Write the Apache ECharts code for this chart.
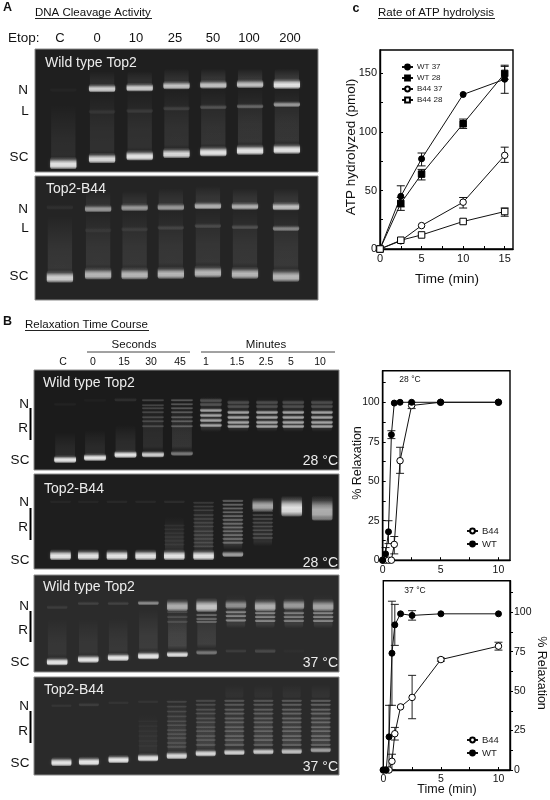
<!doctype html>
<html>
<head>
<meta charset="utf-8" />
<title></title>
<script src="https://cdn.jsdelivr.net/npm/echarts@6/dist/echarts.min.js"></script>
<style>
html,body{margin:0;padding:0;background:#fff}
#main{width:550px;height:800px;filter:blur(0.35px)}
</style>
</head>
<body>
<div id="main"></div>
<script>
// ---- line chart data ----
var atpTime = [0, 2.5, 5, 10, 15];
var atpWt37 = [0, 45, 77, 132, 145];
var atpWt28 = [0, 39, 64, 107, 150];
var atpB4437 = [0, 7, 20, 40, 80];
var atpB4428 = [0, 7.5, 12, 23.5, 32];
// [time, low, high]
var atpWt37Err = [[2.5, 36, 54], [5, 71, 82], [15, 133, 156]];
var atpWt28Err = [[2.5, 33, 44], [5, 59, 68], [10, 103, 111], [15, 145, 157]];
var atpB4437Err = [[10, 35, 44], [15, 74, 87]];
var atpB4428Err = [[15, 28, 35]];

var relaxTime = [0, 0.25, 0.5, 0.75, 1, 1.5, 2.5, 5, 10];
var relax28Wt = [0, 4, 18, 79.5, 99.5, 100, 100, 100, 100];
var relax28B44 = [0, 0, 0, 0, 10, 63, 98, 100, 100];
var relax28WtErr = [[0.25, 0, 8], [0.5, 10.5, 25], [0.75, 77, 82]];
var relax28B44Err = [[1, 4, 15], [1.5, 55, 71.5], [2.5, 96, 100]];
var relax37Wt = [0, 0, 21, 74, 92, 99, 98, 99, 99];
var relax37B44 = [0, 0, 0, 5.5, 23, 40, 46, 70, 78.5];
var relax37WtErr = [[0.5, 0, 41], [0.75, 41, 107], [1, 79, 105], [2.5, 95, 101]];
var relax37B44Err = [[0.75, 0, 10], [1, 19, 27], [2.5, 32.5, 60], [5, 69, 71], [10, 76, 81]];

var atpYLabels = [0, 50, 100, 150];
var atpYTicks = [0, 25, 50, 75, 100, 125, 150];
var atpXLabels = [0, 5, 10, 15];
var atpXTicks = [0, 2.5, 5, 7.5, 10, 12.5, 15];
var relaxYLabels = [0, 25, 50, 75, 100];
var relaxYTicks = [0, 12.5, 25, 37.5, 50, 62.5, 75, 87.5, 100, 112.5];
var relaxXLabels = [0, 5, 10];
var relaxXTicks = [0, 2.5, 5, 7.5, 10];

// ---- gel data: x = % of gel width, migration = % of gel height ----
// bands: [lane, [migrations], intensity, thickness]   smears: [lane, from, to, intensity]
var etopLabels = ['C', '0', '10', '25', '50', '100', '200'];
var secondLabels = ['C', '0', '15', '30', '45'];
var minuteLabels = ['1', '1.5', '2.5', '5', '10'];

var gelA1Lanes = [10, 23.7, 37, 50, 63, 76, 89];
var gelA1Bands = [
	[0, [33], .08, 2.5],
	[1, [31.7], .85, 5], [2, [31], .85, 5], [3, [29.3], .8, 5], [4, [28.7], .8, 5], [5, [28.2], .8, 5], [6, [28.2], .95, 6],
	[1, [50.7], .12, 3], [2, [50], .15, 3], [3, [48], .18, 3], [4, [47], .28, 3], [5, [46.3], .38, 3], [6, [44.7], .6, 3.5],
	[0, [92.7], .95, 7], [1, [88.6], .9, 6], [2, [86.4], .95, 6], [3, [84.5], .9, 6], [4, [83.2], .95, 6], [5, [81.8], .95, 6], [6, [81], .95, 6]
];
var gelA1Smears = [
	[0, 45, 92, .12], [1, 34, 88, .14], [2, 33, 86, .15], [3, 32, 84, .16], [4, 31, 83, .17], [5, 31, 81, .18], [6, 31, 80, .18],
	[1, 18, 31, .12], [2, 18, 30, .14], [3, 16, 29, .16], [4, 16, 28, .18], [5, 16, 28, .2], [6, 16, 28, .22]
];

var gelA2Lanes = [8.8, 22.3, 35.2, 48, 61.1, 74.2, 88.7];
var gelA2Bands = [
	[0, [25], .1, 3],
	[1, [26], .62, 4.5], [2, [25], .62, 4.5], [3, [24.7], .62, 4.5], [4, [23.7], .72, 4.5], [5, [24], .72, 4.5], [6, [24.2], .78, 5],
	[1, [43.5], .1, 3], [2, [42.7], .13, 3], [3, [41.4], .18, 3], [4, [40], .22, 3], [5, [40.9], .25, 3], [6, [42], .5, 3.5],
	[0, [81], .85, 7], [1, [78.5], .75, 7], [2, [78.5], .75, 7], [3, [78], .75, 7], [4, [77], .75, 7], [5, [78], .75, 7], [6, [80], .75, 7.5]
];
var gelA2Smears = [
	[0, 32, 80, .16], [1, 28, 77, .16], [2, 27, 77, .16], [3, 27, 76, .16], [4, 26, 75, .16], [5, 26, 76, .16], [6, 26, 78, .17],
	[1, 12, 25, .1], [2, 12, 24, .12], [3, 10, 24, .13], [4, 8, 23, .15], [5, 10, 23, .15], [6, 10, 23, .15]
];

var gelB1Lanes = [10.2, 20, 30, 39, 48.5, 58, 67, 76.4, 85, 94.4];
var gelB1Bands = [
	[0, [34], .1, 2.5], [1, [30], .08, 2.5], [2, [29.5], .15, 3],
	[0, [89], .95, 5.5], [1, [87], .95, 5.5], [2, [84], .95, 5.5], [3, [84], .85, 5], [4, [83], .5, 4],
	[3, [30, 35, 38, 42, 47, 51, 56], .38, 2.2],
	[4, [30, 34, 38, 42, 47, 51, 56], .5, 2.2],
	[5, [30, 34], .3, 3.5], [5, [40, 45, 50, 55], .65, 3],
	[6, [32, 36], .28, 3.5], [6, [42, 47, 52, 56], .65, 3],
	[7, [32, 36], .28, 3.5], [7, [42, 47, 52, 56], .65, 3],
	[8, [32, 36], .28, 3.5], [8, [42, 47, 52, 56], .65, 3],
	[9, [32, 36], .28, 3.5], [9, [42, 47, 52, 56], .65, 3]
];
var gelB1Smears = [
	[0, 62, 88, .12], [1, 60, 86, .13], [2, 55, 83, .14], [3, 34, 82, .15], [4, 34, 82, .2],
	[5, 26, 62, .18], [6, 26, 62, .17], [7, 26, 62, .17], [8, 26, 62, .17], [9, 26, 62, .17]
];

var gelB2Lanes = [8.7, 17.8, 27.2, 36.6, 46, 55.6, 65.2, 75, 84.5, 94.5];
var gelB2Bands = [
	[0, [29], .12, 2.5], [1, [29], .12, 2.5], [2, [29], .14, 2.5], [3, [29], .14, 2.5], [4, [29], .18, 2.5],
	[0, [85], .95, 8], [1, [85], .95, 8], [2, [85], .95, 8], [3, [85], .95, 8], [4, [85], .95, 8], [5, [85], .95, 8], [6, [84], .65, 5],
	[4, [54, 58, 62, 66, 70, 74], .14, 2],
	[5, [30, 34, 38, 43, 47, 51, 55, 60, 64, 68, 72, 76], .28, 2],
	[6, [28, 32, 36, 40, 44, 48, 52, 56, 60, 64, 68, 72], .55, 2.2],
	[7, [39, 43, 47, 51, 55, 59, 63, 67], .35, 2],
	[7, [32], .7, 10],
	[8, [34], .92, 15],
	[9, [36], .7, 18], [9, [47], .2, 3]
];
var gelB2Smears = [
	[4, 45, 82, .16], [5, 28, 82, .2], [6, 26, 80, .2], [7, 36, 76, .14], [8, 25, 38, .15], [9, 25, 50, .12]
];

var gelB3Lanes = [7.6, 17.8, 27.6, 37.5, 47, 56.6, 66.2, 75.8, 85.2, 94.8];
var gelB3Bands = [
	[0, [33], .15, 3], [1, [29], .18, 3], [2, [29], .18, 3], [3, [28.5], .55, 3.5], [4, [31], .7, 9], [5, [31], .8, 10],
	[6, [30], .55, 7], [7, [31], .7, 9], [8, [30], .6, 8], [9, [31], .65, 9],
	[4, [38, 43, 48], .3, 2.2], [5, [41, 45, 48], .55, 2.2], [6, [38, 42, 46.5], .7, 2.5],
	[7, [39, 43, 47], .7, 2.5], [8, [39, 43, 47], .65, 2.5], [9, [39, 43, 47], .7, 2.5],
	[0, [89], .95, 6], [1, [86.3], .95, 6], [2, [84.5], .95, 6], [3, [82.8], .95, 6], [4, [81.4], .9, 5], [5, [79.4], .45, 4],
	[6, [78], .15, 3], [7, [78], .22, 3.5], [8, [78], .05, 3]
];
var gelB3Smears = [
	[0, 45, 86, .1], [1, 45, 84, .1], [2, 45, 82, .11], [3, 35, 80, .15], [4, 35, 78, .22], [5, 35, 76, .17],
	[6, 20, 55, .14], [7, 20, 55, .15], [8, 20, 55, .15], [9, 20, 55, .15]
];

var gelB4Lanes = [9, 18, 27.7, 37.4, 46.8, 56.3, 65.7, 75.2, 84.5, 94];
var gelB4Bands = [
	[0, [29], .15, 2.5], [1, [28], .16, 3], [2, [26], .14, 2.5], [3, [25], .14, 2.5],
	[0, [86.4], .95, 6.5], [1, [85.8], .95, 6.5], [2, [83.7], .95, 6], [3, [82], .95, 6], [4, [79.7], .88, 6],
	[5, [77.3], .88, 5.5], [6, [76.3], .85, 5], [7, [75.6], .82, 5], [8, [75.3], .78, 5], [9, [74], .65, 4.5],
	[3, [45, 50, 55, 60, 65, 70], .08, 2],
	[4, [25, 30, 35, 40, 45, 49, 54, 58, 62, 67, 71], .28, 2],
	[5, [24, 28, 33, 37, 42, 46, 51, 55, 60, 64, 69], .33, 2.1],
	[6, [24, 28, 33, 37, 42, 46, 51, 55, 60, 64, 69], .42, 2.2],
	[7, [24, 28, 33, 37, 42, 46, 51, 55, 60, 64, 69], .42, 2.2],
	[8, [24, 28, 33, 37, 42, 46, 51, 55, 60, 64, 69], .45, 2.2],
	[9, [24, 28, 33, 37, 42, 46, 51, 55, 60, 64, 69], .48, 2.2]
];
var gelB4Smears = [
	[3, 38, 80, .08], [4, 22, 78, .18], [5, 22, 76, .2], [6, 20, 75, .2], [7, 20, 74, .2], [8, 20, 74, .2], [9, 20, 73, .2],
	[6, 8, 22, .06], [7, 8, 22, .06], [8, 8, 22, .07], [9, 8, 22, .08]
];

// gel panels, left/top in page pixels
var gels = [
	{left: 35, top: 49, width: 283, height: 123, bg: '#1f1f1f', laneW: 10, lanes: gelA1Lanes, bands: gelA1Bands, smears: gelA1Smears},
	{left: 35, top: 176, width: 283, height: 124, bg: '#242424', laneW: 10, lanes: gelA2Lanes, bands: gelA2Bands, smears: gelA2Smears},
	{left: 34, top: 370, width: 305, height: 100, bg: '#1b1b1b', laneW: 7.8, lanes: gelB1Lanes, bands: gelB1Bands, smears: gelB1Smears},
	{left: 34, top: 474, width: 305, height: 95, bg: '#1e1e1e', laneW: 7.4, lanes: gelB2Lanes, bands: gelB2Bands, smears: gelB2Smears},
	{left: 34, top: 575, width: 305, height: 97, bg: '#2b2b2b', laneW: 7.4, lanes: gelB3Lanes, bands: gelB3Bands, smears: gelB3Smears},
	{left: 34, top: 677, width: 305, height: 98, bg: '#2a2a2a', laneW: 7.2, lanes: gelB4Lanes, bands: gelB4Bands, smears: gelB4Smears}
];

var FONT = '"Liberation Sans", Arial, sans-serif';
var myChart = echarts.init(document.getElementById('main'), null, {renderer: 'canvas'});
var grid = [], xAxis = [], yAxis = [], series = [];

function pairs(x, y) {
	return x.map(function (t, i) { return [t, y[i]]; });
}

// gradient profiles across a band and along a smear
var bandProfile = [[0, 0], [.2, .2], [.4, .75], [.55, 1], [.75, .95], [.92, .45], [1, 0]];
var smearProfile = [[0, 0], [.3, .5], [.6, .9], [.88, 1], [1, 0]];

// soft-edged white rectangle for gel bands and smears
function gelRect(api, x, from, to, w, alpha, profile, blur, inset) {
	var a = api.coord([x - w / 2, from]);
	var b = api.coord([x + w / 2, to]);
	return {
		type: 'rect',
		shape: {x: a[0] + inset, y: a[1], width: b[0] - a[0] - inset * 2, height: b[1] - a[1], r: 3},
		style: {
			fill: new echarts.graphic.LinearGradient(0, 0, 0, 1, profile.map(function (s) {
				return {offset: s[0], color: 'rgba(255,255,255,' + (s[1] * alpha).toFixed(3) + ')'};
			})),
			shadowBlur: blur,
			shadowColor: 'rgba(255,255,255,' + (alpha * .3).toFixed(3) + ')'
		}
	};
}

gels.forEach(function (g) {
	var i = grid.length;
	grid.push({left: g.left, top: g.top, width: g.width, height: g.height, show: true, backgroundColor: g.bg, borderColor: '#8a8a8a', borderWidth: 1});
	xAxis.push({gridIndex: i, type: 'value', min: 0, max: 100, show: false});
	yAxis.push({gridIndex: i, type: 'value', min: 0, max: 100, inverse: true, show: false});
	var smearRows = g.smears.map(function (s) { return [g.lanes[s[0]], s[1], s[2], s[3]]; });
	var bandRows = [];
	g.bands.forEach(function (b) {
		b[1].forEach(function (m) { bandRows.push([g.lanes[b[0]], m, b[2], b[3]]); });
	});
	series.push({
		type: 'custom', xAxisIndex: i, yAxisIndex: i, clip: true, silent: true, z: 2,
		data: smearRows,
		renderItem: function (params, api) {
			return gelRect(api, api.value(0), api.value(1), api.value(2), g.laneW, api.value(3) * .55, smearProfile, 6, 2);
		}
	});
	series.push({
		type: 'custom', xAxisIndex: i, yAxisIndex: i, clip: true, silent: true, z: 3,
		data: bandRows,
		renderItem: function (params, api) {
			var m = api.value(1), t = api.value(3) * 1.5;
			var alpha = Math.pow(api.value(2), 1.25) * (t < 4 ? .58 : .9);
			return gelRect(api, api.value(0), m - t / 2, m + t / 2, g.laneW, alpha, bandProfile, 3, 1);
		}
	});
});

// error bars with caps, drawn through the axes of the given grid
function errorSeries(idx, rows, color) {
	return {
		type: 'custom', xAxisIndex: idx, yAxisIndex: idx, z: 3, silent: true, clip: false, data: rows,
		renderItem: function (params, api) {
			var lo = api.coord([api.value(0), api.value(1)]);
			var hi = api.coord([api.value(0), api.value(2)]);
			var st = {stroke: color, lineWidth: 1, fill: 'none'};
			return {type: 'group', children: [
				{type: 'line', shape: {x1: lo[0], y1: lo[1], x2: hi[0], y2: hi[1]}, style: st},
				{type: 'line', shape: {x1: lo[0] - 4, y1: lo[1], x2: lo[0] + 4, y2: lo[1]}, style: st},
				{type: 'line', shape: {x1: hi[0] - 4, y1: hi[1], x2: hi[0] + 4, y2: hi[1]}, style: st}
			]};
		}
	};
}

function lineSeries(idx, name, data, symbol, filled, size) {
	return {
		name: name, type: 'line', xAxisIndex: idx, yAxisIndex: idx, z: 5, data: data,
		symbol: symbol, symbolSize: size, showAllSymbol: true, clip: false, animation: false,
		lineStyle: {color: '#111', width: 1},
		itemStyle: {color: filled ? '#000' : '#fff', borderColor: '#000', borderWidth: 1, opacity: 1}
	};
}

function plotAxes(g, xMax, yMax, xLabels, xTicks, yLabels, yTicks, yRight, fontSize) {
	var i = grid.length;
	grid.push({left: g.left, top: g.top, width: g.width, height: g.height, show: true, backgroundColor: 'transparent', borderColor: '#000', borderWidth: 1.4, z: 4});
	xAxis.push({
		gridIndex: i, type: 'value', min: 0, max: xMax, splitLine: {show: false},
		axisLine: {show: true, onZero: false, lineStyle: {color: '#000', width: 1.4}},
		axisTick: {show: true, inside: true, length: 3, customValues: xTicks, lineStyle: {color: '#000'}},
		axisLabel: {customValues: xLabels, color: '#111', fontFamily: FONT, fontSize: fontSize, margin: 4, hideOverlap: false, showMinLabel: true, showMaxLabel: true}
	});
	yAxis.push({
		gridIndex: i, type: 'value', min: 0, max: yMax, position: yRight ? 'right' : 'left', splitLine: {show: false},
		axisLine: {show: true, onZero: false, lineStyle: {color: '#000', width: 1.4}},
		axisTick: {show: true, inside: !yRight, length: 3, customValues: yTicks, lineStyle: {color: '#000'}},
		axisLabel: {customValues: yLabels, color: '#111', fontFamily: FONT, fontSize: fontSize, margin: yRight ? 4 : 3, hideOverlap: false, showMinLabel: true, showMaxLabel: true}
	});
	return i;
}

// rate of ATP hydrolysis
var a = plotAxes({left: 380, top: 50, width: 133, height: 199}, 16, 170, atpXLabels, atpXTicks, atpYLabels, atpYTicks, false, 11);
[atpWt37Err, atpWt28Err, atpB4437Err, atpB4428Err].forEach(function (e) { series.push(errorSeries(a, e, '#111')); });
series.push(lineSeries(a, 'WT 37', pairs(atpTime, atpWt37), 'circle', true, 6));
series.push(lineSeries(a, 'WT 28', pairs(atpTime, atpWt28), 'rect', true, 6.5));
series.push(lineSeries(a, 'B44 37', pairs(atpTime, atpB4437), 'circle', false, 6.5));
series.push(lineSeries(a, 'B44 28', pairs(atpTime, atpB4428), 'rect', false, 6.5));

// relaxation 28 C
var b = plotAxes({left: 382.7, top: 370.7, width: 127.3, height: 189.5}, 11, 120, relaxXLabels, relaxXTicks, relaxYLabels, relaxYTicks, false, 10.5);
series.push(errorSeries(b, relax28WtErr, '#222'));
series.push(errorSeries(b, relax28B44Err, '#222'));
series.push(lineSeries(b, 'B44', pairs(relaxTime, relax28B44), 'circle', false, 6.5));
series.push(lineSeries(b, 'WT', pairs(relaxTime, relax28Wt), 'circle', true, 6));

// relaxation 37 C
var c = plotAxes({left: 383.3, top: 580.7, width: 126.7, height: 189.3}, 11, 120, relaxXLabels, relaxXTicks, relaxYLabels, relaxYTicks, true, 10.5);
series.push(errorSeries(c, relax37WtErr, '#222'));
series.push(errorSeries(c, relax37B44Err, '#222'));
series.push(lineSeries(c, 'B44', pairs(relaxTime, relax37B44), 'circle', false, 6.5));
series.push(lineSeries(c, 'WT', pairs(relaxTime, relax37Wt), 'circle', true, 6));

function legendAt(left, top, names, size, gap) {
	return {
		left: left, top: top, orient: 'vertical', data: names, itemWidth: 11, itemHeight: 6, itemGap: gap, selectedMode: false,
		textStyle: {fontFamily: FONT, fontSize: size, color: '#222', padding: [0, 0, 0, -1]}
	};
}

// text helpers
var texts = [];
function txt(x, y, s, size, opt) {
	opt = opt || {};
	texts.push({
		type: 'text', x: x, y: y, rotation: opt.rot || 0, z: 20, silent: true,
		style: {
			text: s, fill: opt.fill || '#111', textAlign: opt.align || 'center', textVerticalAlign: 'middle',
			font: (opt.bold ? 'bold ' : '') + size + 'px ' + FONT
		}
	});
}
function hline(x1, x2, y, w, color) {
	texts.push({type: 'line', z: 20, silent: true, shape: {x1: x1, y1: y, x2: x2, y2: y}, style: {stroke: color || '#222', lineWidth: w || 1}});
}
function vbar(x, y1, y2) {
	texts.push({type: 'line', z: 20, silent: true, shape: {x1: x, y1: y1, x2: x, y2: y2}, style: {stroke: '#000', lineWidth: 2}});
}

txt(3, 8, 'A', 12.5, {bold: true, align: 'left'});
txt(35, 13, 'DNA Cleavage Activity', 11.5, {align: 'left'});
hline(35, 152, 18.5);
txt(8, 38, 'Etop:', 13.5, {align: 'left'});
[60, 97, 136, 175, 213, 249, 290].forEach(function (x, i) { txt(x, 38, etopLabels[i], 13); });
txt(356, 9, 'c', 12.5, {bold: true, align: 'center'});
txt(378, 13, 'Rate of ATP hydrolysis', 11.5, {align: 'left'});
hline(378, 495, 18.5);
txt(3, 322, 'B', 12.5, {bold: true, align: 'left'});
txt(25, 325, 'Relaxation Time Course', 11.5, {align: 'left'});
hline(25, 149, 330.5);
txt(134, 345, 'Seconds', 11.5);
txt(266, 345, 'Minutes', 11.5);
hline(87, 190, 352, 1, '#444');
hline(201, 335, 352, 1, '#444');
[63, 93, 124, 151, 180].forEach(function (x, i) { txt(x, 362, secondLabels[i], 10.5); });
[206, 237, 266, 291, 320].forEach(function (x, i) { txt(x, 362, minuteLabels[i], 10.5); });

var W = '#ececec';
txt(45, 63, 'Wild type Top2', 14, {fill: W, align: 'left'});
txt(46, 189, 'Top2-B44', 14, {fill: W, align: 'left'});
txt(43, 383, 'Wild type Top2', 14, {fill: W, align: 'left'});
txt(44, 489, 'Top2-B44', 14, {fill: W, align: 'left'});
txt(43, 587, 'Wild type Top2', 14, {fill: W, align: 'left'});
txt(44, 690, 'Top2-B44', 14, {fill: W, align: 'left'});
txt(338, 461, '28 °C', 14, {fill: W, align: 'right'});
txt(338, 563, '28 °C', 14, {fill: W, align: 'right'});
txt(338, 663, '37 °C', 14, {fill: W, align: 'right'});
txt(338, 767, '37 °C', 14, {fill: W, align: 'right'});

[[90, 'N', 23], [111, 'L', 25], [157, 'SC', 19], [209, 'N', 23], [228, 'L', 25], [276, 'SC', 19],
 [404, 'N', 24], [428, 'R', 23], [460, 'SC', 20], [502, 'N', 24], [527, 'R', 23], [560, 'SC', 20],
 [606, 'N', 24], [630, 'R', 23], [662, 'SC', 20], [706, 'N', 24], [731, 'R', 23], [763, 'SC', 20]
].forEach(function (l) { txt(l[2], l[0], l[1], 13.5); });
vbar(30.5, 408, 440);
vbar(30.5, 508, 540);
vbar(30.5, 611, 642);
vbar(30.5, 711, 743);

txt(351, 147, 'ATP hydrolyzed (pmol)', 13.5, {rot: Math.PI / 2});
txt(447, 279, 'Time (min)', 13.5);
txt(358, 463, '% Relaxation', 12.5, {rot: Math.PI / 2});
txt(541, 673, '% Relaxation', 12.5, {rot: -Math.PI / 2});
txt(447, 790, 'Time (min)', 12.5);
txt(410, 379.5, '28 °C', 8.5);
txt(415, 590.5, '37 °C', 8.5);

option = {
	animation: false,
	backgroundColor: '#fff',
	grid: grid,
	xAxis: xAxis,
	yAxis: yAxis,
	series: series,
	legend: [
		legendAt(396, 58, ['WT 37', 'WT 28', 'B44 37', 'B44 28'], 8, 3),
		legendAt(461, 521, ['B44', 'WT'], 9.5, 3),
		legendAt(461, 730, ['B44', 'WT'], 9.5, 3)
	],
	graphic: {elements: texts}
};
myChart.setOption(option);
</script>
</body>
</html>
